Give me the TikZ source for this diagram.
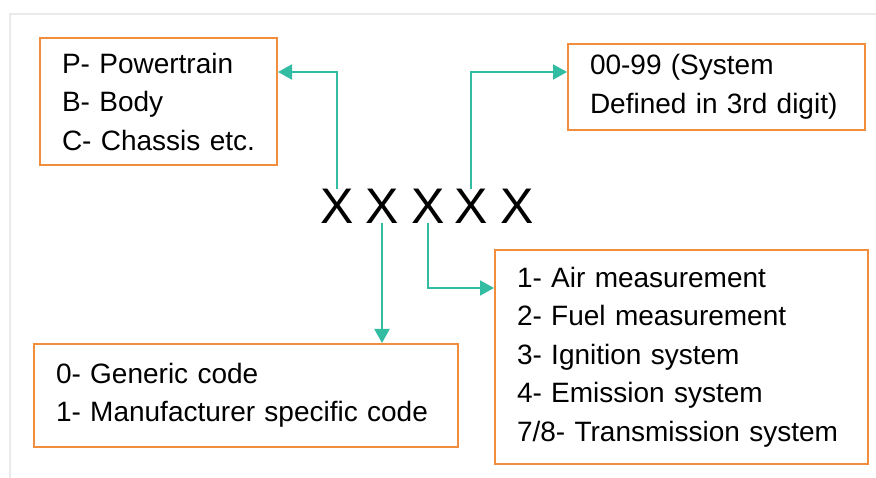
\documentclass[tikz,border=0pt]{standalone}
\usepackage{fontspec}
\setmainfont{Liberation Sans}
\usetikzlibrary{calc}
\usetikzlibrary{arrows.meta}
\definecolor{codeteal}{RGB}{50,188,162}
\definecolor{codeorange}{RGB}{240,142,62}
\definecolor{framegray}{RGB}{234,234,234}

\begin{document}
\begin{tikzpicture}[
		x=1pt, y=-1pt,
		>={Triangle[length=14pt,width=15pt]},
		box/.style={draw=codeorange, line width=2pt, anchor=north west, align=left,
			inner xsep=22pt, inner ysep=0pt, font=\fontsize{28}{38.5}\selectfont},
		digit/.style={inner sep=0pt, font=\fontsize{50}{50}\selectfont},
		link/.style={->, draw=codeteal, line width=2pt},
		frame/.style={draw=framegray, line width=1.5pt},
	]
	\useasboundingbox (0,0) rectangle (876,478);
	\draw[frame] (10,478) -- (10,14) -- (876,14);
	% the five characters of the code
	\node[digit] (x1) at (337,206) {X};
	\node[digit] (x2) at (382,206) {X};
	\node[digit] (x3) at (428,206) {X};
	\node[digit] (x4) at (471,206) {X};
	\node[digit] (x5) at (517,206) {X};
	% the boxes
	\node[box, minimum width=237pt, minimum height=127pt, text width=193pt] (sys) at (39,37)
		{P- Powertrain\\B- Body\\C- Chassis etc.};
	\node[box, minimum width=297pt, minimum height=86pt, text width=253pt] (num) at (567,43)
		{00-99 (System\\Defined in 3rd digit)};
	\node[box, minimum width=424pt, minimum height=103pt, text width=380pt] (gen) at (33,343)
		{0- Generic code\\1- Manufacturer specific code};
	\node[box, minimum width=373pt, minimum height=214pt, text width=329pt] (sub) at (494,249)
		{1- Air measurement\\2- Fuel measurement\\3- Ignition system\\4- Emission system\\7/8- Transmission system};
	% connectors
	\draw[link] (x1.north) |- (sys.east |- 0,72);
	\draw[link] (x4.north) |- (num.west |- 0,72);
	\draw[link] (x2.south) -- (gen.north -| x2.south);
	\draw[link] (x3.south) |- (sub.west |- 0,288);
\end{tikzpicture}
\end{document}
